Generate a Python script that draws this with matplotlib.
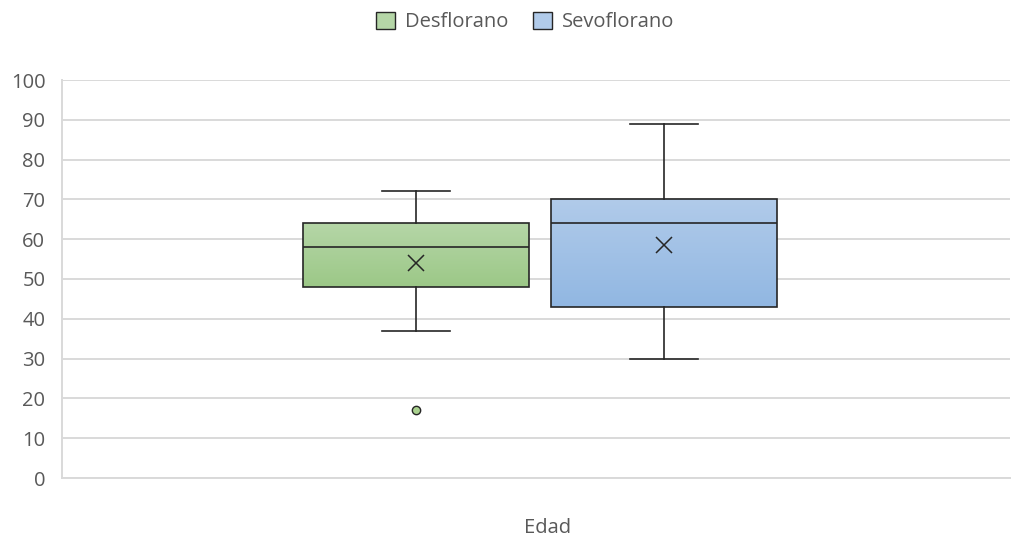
import numpy as np
import matplotlib
matplotlib.use("Agg")
import matplotlib.pyplot as plt
from matplotlib.patches import Rectangle
from matplotlib.colors import LinearSegmentedColormap

plt.rcParams['font.family'] = ['Open Sans', 'DejaVu Sans']

# Summary statistics per group (age, years)
groups = ["Desflorano", "Sevoflorano"]
whisker_low = [37, 30]
q1 = [48, 43]
median = [58, 64]
q3 = [64, 70]
whisker_high = [72, 89]
mean = [54, 58.5]
outliers = [[17], []]

category = "Edad"
y_ticks = [0, 10, 20, 30, 40, 50, 60, 70, 80, 90, 100]

fill_top = ["#b5d6a7", "#b1cbea"]
fill_bottom = ["#9cc887", "#91b7e2"]
outlier_face = "#a9d18e"

positions = [0.3734, 0.635]
box_width = 0.238

fig = plt.figure(figsize=(10.22, 5.37), dpi=100)
ax = fig.add_axes([62 / 1022, 1 - 478 / 537, 948 / 1022, 398 / 537])

stats = []
for i, name in enumerate(groups):
    stats.append(dict(label=name, whislo=whisker_low[i], q1=q1[i], med=median[i],
                      q3=q3[i], whishi=whisker_high[i], mean=mean[i],
                      fliers=outliers[i]))

bp = ax.bxp(stats, positions=positions, widths=box_width, patch_artist=True,
            showmeans=True, showfliers=True, manage_ticks=False,
            boxprops=dict(facecolor="none", edgecolor="#262626", linewidth=1.2),
            medianprops=dict(color="#262626", linewidth=1.2),
            whiskerprops=dict(color="#262626", linewidth=1.2),
            capprops=dict(color="#262626", linewidth=1.2),
            capwidths=0.071,
            meanprops=dict(marker="x", markersize=11, markeredgecolor="#262626",
                           markeredgewidth=1.1),
            flierprops=dict(marker="o", markersize=6, markerfacecolor=outlier_face,
                            markeredgecolor="#262626", markeredgewidth=1.0))

# Vertical gradient fill behind each box
for i, box in enumerate(bp["boxes"]):
    box.set_zorder(3)
    cmap = LinearSegmentedColormap.from_list("g%d" % i, [fill_bottom[i], fill_top[i]])
    grad = np.linspace(0, 1, 256).reshape(-1, 1)
    x0 = positions[i] - box_width / 2
    im = ax.imshow(grad, cmap=cmap, origin="lower", aspect="auto",
                   extent=[x0, x0 + box_width, q1[i], q3[i]], zorder=2)
    im.set_clip_path(box)

for key in ["medians", "whiskers", "caps", "means", "fliers"]:
    for art in bp[key]:
        art.set_zorder(4)

ax.set_xlim(0, 1)
ax.set_ylim(0, 100)
ax.set_yticks(y_ticks)
ax.set_xticks([])
ax.yaxis.grid(True, color="#d9d9d9", linewidth=1.4)
ax.set_axisbelow(True)
for side in ["top", "right"]:
    ax.spines[side].set_visible(False)
ax.spines["left"].set_color("#d9d9d9")
ax.spines["bottom"].set_color("#d9d9d9")
ax.spines["left"].set_linewidth(1.4)
ax.spines["bottom"].set_linewidth(1.4)
ax.tick_params(axis="y", length=0, pad=12, labelsize=14.5, labelcolor="#595959")

fig.text(548 / 1022, 1 - 528 / 537, category, ha="center", va="center",
         fontsize=14.5, color="#595959")

handles = [Rectangle((0, 0), 1, 1, facecolor=fill_top[i], edgecolor="#262626",
                     linewidth=1.0) for i in range(len(groups))]
fig.legend(handles, groups, loc="center", bbox_to_anchor=(525 / 1022, 1 - 22 / 537),
           ncol=2, frameon=False, fontsize=14.5, labelcolor="#595959",
           handlelength=0.95, handleheight=0.95, handletextpad=0.5, columnspacing=1.2)

fig.savefig("out.png", dpi=100)
